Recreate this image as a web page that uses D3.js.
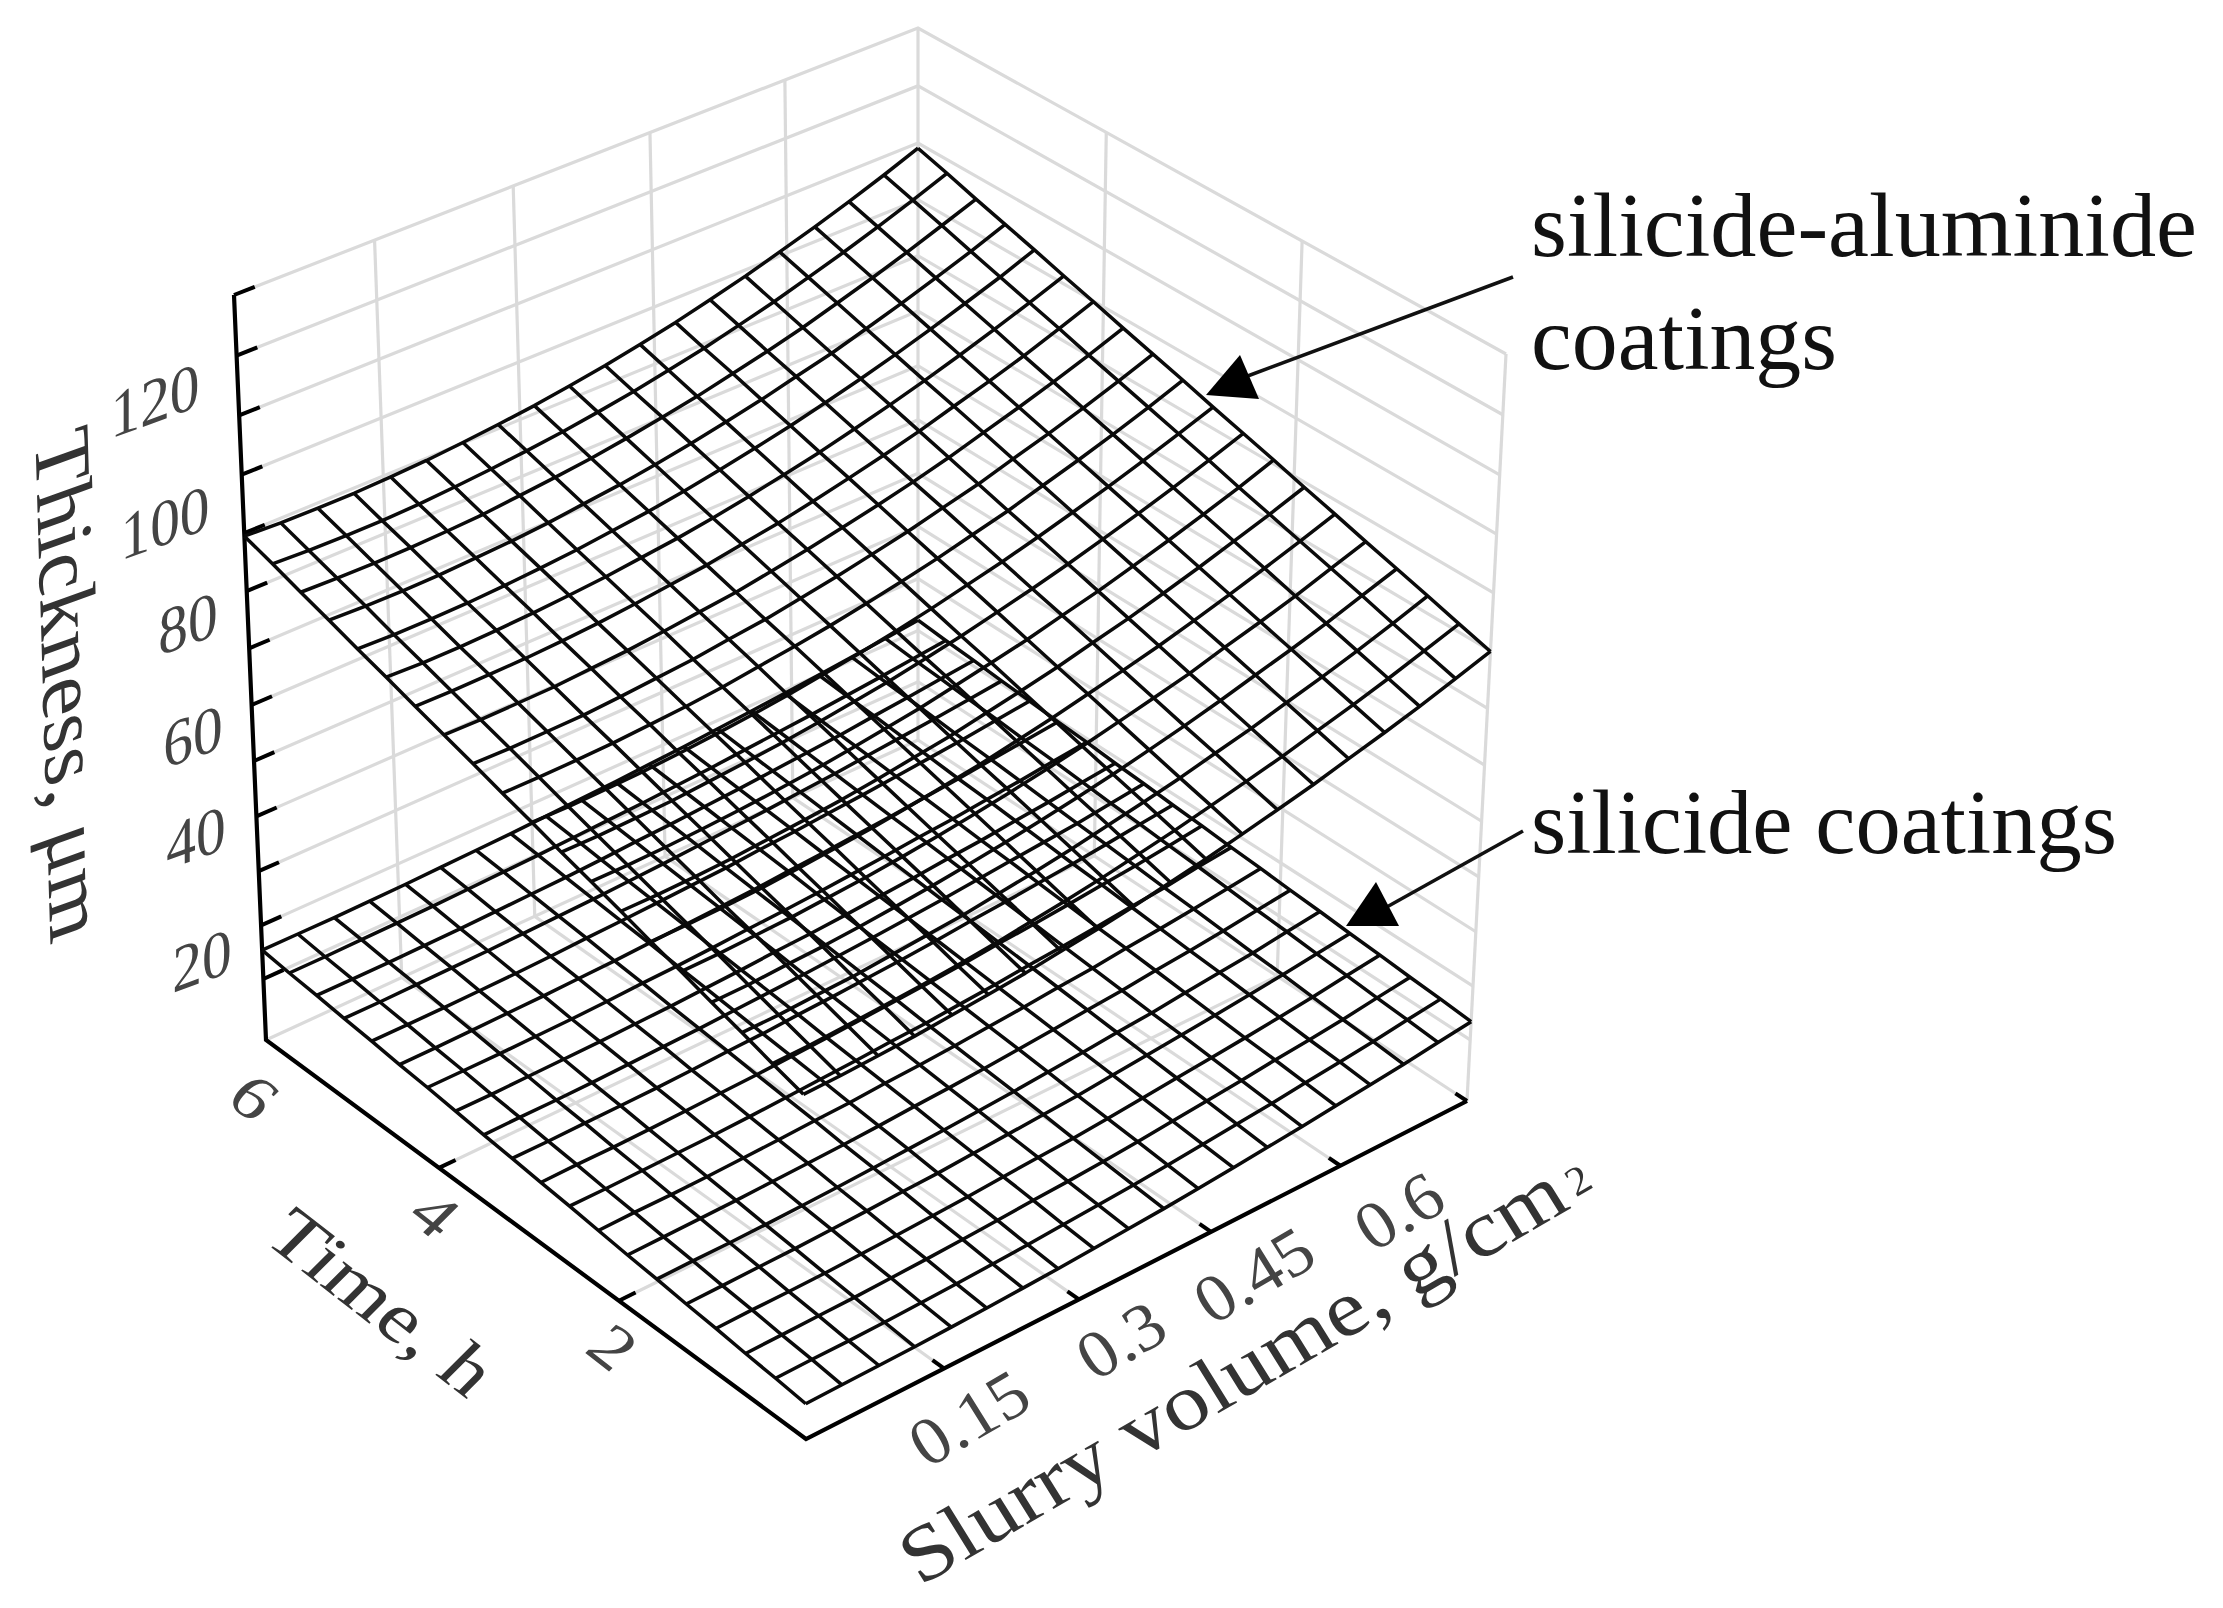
<!DOCTYPE html>
<html><head><meta charset="utf-8">
<script src="https://cdn.jsdelivr.net/npm/d3@7"></script>
<style>html,body{margin:0;background:#fff}svg{display:block;filter:blur(0.6px)}text{font-family:"Liberation Serif",serif}</style>
</head><body><div id="c"></div>
<script>
// ---- data ----
const slurryGrid=[0,0.039,0.079,0.118,0.158,0.197,0.237,0.276,0.316,0.355,0.395,0.434,0.474,0.513,0.553,0.592,0.632,0.671,0.711,0.75];
const timeGrid=[0,0.316,0.632,0.947,1.263,1.579,1.895,2.211,2.526,2.842,3.158,3.474,3.789,4.105,4.421,4.737,5.053,5.368,5.684,6];
const aluminide=[
[68.3,68.5,68.9,69.3,69.9,70.5,71.2,72.1,73.0,74.0,75.2,76.4,77.8,79.2,80.7,82.4,84.1,85.9,87.9,89.9],
[69.9,70.1,70.5,70.9,71.4,72.0,72.7,73.6,74.5,75.5,76.7,77.9,79.3,80.7,82.2,83.9,85.6,87.4,89.4,91.4],
[71.6,71.7,72.1,72.4,73.0,73.6,74.2,75.1,76.0,77.0,78.2,79.4,80.7,82.2,83.7,85.4,87.1,88.9,90.9,93.0],
[73.2,73.3,73.7,74.0,74.5,75.1,75.8,76.6,77.5,78.5,79.6,80.8,82.2,83.6,85.2,86.9,88.6,90.4,92.5,94.5],
[74.9,75.0,75.3,75.6,76.1,76.6,77.3,78.1,79.0,80.0,81.1,82.3,83.7,85.1,86.6,88.4,90.1,91.9,94.0,96.0],
[76.5,76.6,76.8,77.1,77.6,78.2,78.8,79.6,80.5,81.4,82.6,83.8,85.2,86.6,88.1,89.8,91.6,93.5,95.5,97.6],
[78.2,78.2,78.4,78.7,79.2,79.7,80.3,81.1,82.0,82.9,84.1,85.3,86.6,88.1,89.6,91.3,93.1,95.0,97.0,99.1],
[79.8,79.8,80.0,80.3,80.7,81.2,81.8,82.6,83.5,84.4,85.6,86.8,88.1,89.6,91.1,92.8,94.6,96.5,98.5,100.7],
[81.4,81.4,81.6,81.8,82.3,82.8,83.4,84.1,85.0,85.9,87.0,88.2,89.6,91.0,92.6,94.3,96.1,98.0,100.1,102.2],
[83.1,83.0,83.2,83.4,83.8,84.3,84.9,85.6,86.5,87.4,88.5,89.7,91.1,92.5,94.1,95.8,97.6,99.5,101.6,103.7],
[84.7,84.7,84.8,85.0,85.4,85.8,86.4,87.2,88.0,88.9,90.0,91.2,92.5,94.0,95.5,97.3,99.1,101.0,103.1,105.3],
[86.4,86.3,86.4,86.5,86.9,87.4,87.9,88.7,89.4,90.4,91.5,92.7,94.0,95.5,97.0,98.8,100.6,102.5,104.6,106.8],
[88.0,87.9,88.0,88.1,88.5,88.9,89.5,90.2,90.9,91.9,93.0,94.2,95.5,96.9,98.5,100.3,102.1,104.0,106.1,108.3],
[89.6,89.5,89.6,89.7,90.0,90.4,91.0,91.7,92.4,93.4,94.4,95.6,97.0,98.4,100.0,101.8,103.6,105.5,107.7,109.9],
[91.3,91.1,91.1,91.3,91.6,92.0,92.5,93.2,93.9,94.8,95.9,97.1,98.4,99.9,101.5,103.2,105.1,107.1,109.2,111.4],
[92.9,92.7,92.7,92.8,93.1,93.5,94.0,94.7,95.4,96.3,97.4,98.6,99.9,101.4,103.0,104.7,106.6,108.6,110.7,113.0],
[94.6,94.4,94.3,94.4,94.7,95.0,95.5,96.2,96.9,97.8,98.9,100.1,101.4,102.9,104.4,106.2,108.1,110.1,112.2,114.5],
[96.2,96.0,95.9,96.0,96.2,96.5,97.1,97.7,98.4,99.3,100.4,101.5,102.9,104.3,105.9,107.7,109.6,111.6,113.8,116.0],
[97.9,97.6,97.5,97.5,97.7,98.1,98.6,99.2,99.9,100.8,101.8,103.0,104.3,105.8,107.4,109.2,111.1,113.1,115.3,117.6],
[99.5,99.2,99.1,99.1,99.3,99.6,100.1,100.7,101.4,102.3,103.3,104.5,105.8,107.3,108.9,110.7,112.6,114.6,116.8,119.1]];
const silicide=[
[14.8,14.9,15.0,15.1,15.3,15.5,15.8,16.1,16.5,16.9,17.3,17.8,18.4,19.0,19.6,20.3,21.0,21.7,22.6,23.4],
[15.4,15.5,15.5,15.6,15.8,16.0,16.3,16.6,17.0,17.4,17.8,18.3,18.9,19.5,20.1,20.8,21.5,22.2,23.1,23.9],
[15.9,16.0,16.1,16.2,16.4,16.6,16.9,17.2,17.6,17.9,18.3,18.8,19.4,20.0,20.6,21.3,21.9,22.6,23.5,24.3],
[16.5,16.6,16.6,16.7,16.9,17.1,17.4,17.7,18.1,18.5,18.8,19.3,19.9,20.5,21.1,21.7,22.4,23.1,24.0,24.8],
[17.0,17.1,17.2,17.3,17.5,17.7,18.0,18.2,18.6,19.0,19.4,19.8,20.4,21.0,21.6,22.2,22.9,23.6,24.4,25.2],
[17.6,17.7,17.7,17.8,18.0,18.2,18.5,18.8,19.1,19.5,19.9,20.4,20.9,21.5,22.0,22.7,23.4,24.0,24.9,25.7],
[18.1,18.2,18.3,18.4,18.6,18.8,19.0,19.3,19.7,20.0,20.4,20.9,21.4,22.0,22.5,23.2,23.8,24.5,25.3,26.1],
[18.7,18.8,18.8,18.9,19.1,19.3,19.6,19.8,20.2,20.5,20.9,21.4,21.9,22.5,23.0,23.7,24.3,25.0,25.8,26.6],
[19.3,19.3,19.4,19.5,19.6,19.8,20.1,20.4,20.7,21.1,21.4,21.9,22.4,23.0,23.5,24.1,24.8,25.4,26.3,27.0],
[19.8,19.9,19.9,20.0,20.2,20.4,20.6,20.9,21.2,21.6,22.0,22.4,22.9,23.5,24.0,24.6,25.3,25.9,26.7,27.5],
[20.4,20.4,20.5,20.6,20.7,20.9,21.2,21.4,21.8,22.1,22.5,22.9,23.4,24.0,24.5,25.1,25.7,26.4,27.2,27.9],
[20.9,21.0,21.0,21.1,21.3,21.5,21.7,22.0,22.3,22.6,23.0,23.4,23.9,24.4,25.0,25.6,26.2,26.8,27.6,28.4],
[21.5,21.5,21.6,21.7,21.8,22.0,22.2,22.5,22.8,23.2,23.5,23.9,24.4,24.9,25.5,26.0,26.7,27.3,28.1,28.8],
[22.1,22.1,22.1,22.2,22.3,22.5,22.8,23.0,23.3,23.7,24.0,24.4,24.9,25.4,26.0,26.5,27.2,27.8,28.6,29.3],
[22.6,22.6,22.7,22.8,22.9,23.1,23.3,23.6,23.9,24.2,24.5,25.0,25.4,25.9,26.4,27.0,27.6,28.3,29.0,29.7],
[23.2,23.2,23.2,23.3,23.4,23.6,23.9,24.1,24.4,24.7,25.0,25.5,25.9,26.4,26.9,27.5,28.1,28.7,29.5,30.2],
[23.7,23.7,23.8,23.9,24.0,24.2,24.4,24.6,24.9,25.2,25.6,26.0,26.4,26.9,27.4,28.0,28.6,29.2,29.9,30.6],
[24.3,24.3,24.3,24.4,24.5,24.7,24.9,25.1,25.4,25.8,26.1,26.5,26.9,27.4,27.9,28.4,29.1,29.7,30.4,31.1],
[24.8,24.8,24.9,25.0,25.1,25.3,25.5,25.7,26.0,26.3,26.6,27.0,27.4,27.9,28.4,28.9,29.5,30.1,30.8,31.5],
[25.4,25.4,25.4,25.5,25.6,25.8,26.0,26.2,26.5,26.8,27.1,27.5,27.9,28.4,28.9,29.4,30.0,30.6,31.3,32.0]];
const slurryTicks=[0.15,0.3,0.45,0.6,0.75];
const slurryLabels=["0.15","0.3","0.45","0.6"];
const timeTicks=[0,2,4,6];
const timeLabels=["2","4","6"];
const zTicks=[20,30,40,50,60,70,80,90,100,110,120,130,140];
const zLabels=["20","40","60","80","100","120"];

// ---- projection ----
const W=2223,H=1608;
const svg=d3.select("#c").append("svg").attr("width",W).attr("height",H).attr("viewBox",`0 0 ${W} ${H}`);
const sScale=d3.scaleLinear().domain([0,0.75]).range([0,1]);
const tScale=d3.scaleLinear().domain([0,6]).range([0,1]);
const zScale=d3.scaleLinear().domain([8.5,140]).range([0,1]);
function homography(p00,p10,p11,p01){
  const dx1=p10[0]-p11[0],dx2=p01[0]-p11[0],sx=p00[0]-p10[0]+p11[0]-p01[0];
  const dy1=p10[1]-p11[1],dy2=p01[1]-p11[1],sy=p00[1]-p10[1]+p11[1]-p01[1];
  const det=dx1*dy2-dx2*dy1,g=(sx*dy2-dx2*sy)/det,h=(dx1*sy-sx*dy1)/det;
  const a=p10[0]-p00[0]+g*p10[0],b=p01[0]-p00[0]+h*p01[0],c=p00[0];
  const d=p10[1]-p00[1]+g*p10[1],e=p01[1]-p00[1]+h*p01[1],f=p00[1];
  return (u,v)=>{const w=g*u+h*v+1;return [(a*u+b*v+c)/w,(d*u+e*v+f)/w];};
}
const floorMap=homography([806,1439],[1467,1101],[918,740],[266,1040]);
const topMap=homography([800,650],[1506,354],[918,28],[234,295]);
const persp=0.93;
function P(s,t,z){
  const u=sScale(s),v=tScale(t),k0=zScale(z),k=k0*persp/(1-k0+k0*persp);
  const f=floorMap(u,v),g=topMap(u,v);
  return [f[0]+(g[0]-f[0])*k,f[1]+(g[1]-f[1])*k];
}
const line=d3.line();
const Z0=8.5,Z1=140,S1=0.75,T1=6;

// ---- walls and floor grid ----
const grid=svg.append("g").attr("fill","none").attr("stroke","#dadada").attr("stroke-width",3.2);
function seg(g,a,b){g.append("path").attr("d",line([a,b]));}
zTicks.forEach(z=>{
  grid.append("path").attr("d",line([P(0,T1,z),P(S1,T1,z),P(S1,0,z)]));
});
[0.15,0.3,0.45,0.6,0.75].forEach(s=>seg(grid,P(s,T1,Z0),P(s,T1,Z1)));
[0,2,4].forEach(t=>seg(grid,P(S1,t,Z0),P(S1,t,Z1)));
slurryTicks.forEach(s=>seg(grid,P(s,0,Z0),P(s,T1,Z0)));
timeTicks.forEach(t=>seg(grid,P(0,t,Z0),P(S1,t,Z0)));

// ---- axes ----
const ax=svg.append("g").attr("fill","none").attr("stroke","#000");
ax.append("path").attr("stroke-width",4.2).attr("d",line([P(0,T1,Z1),P(0,T1,Z0),P(0,0,Z0),P(S1,0,Z0)]));
const tk=ax.append("g").attr("stroke-width",4);
zTicks.forEach(z=>seg(tk,P(0,T1,z),P(0.022,T1,z)));
slurryTicks.forEach(s=>seg(tk,P(s,0,Z0),P(s,0.12,Z0)));
timeTicks.slice(1,3).forEach(t=>seg(tk,P(0,t,Z0),P(0.018,t,Z0)));

// ---- surfaces ----
function mesh(values){
  const g=svg.append("g").attr("fill","none").attr("stroke","#0a0a0a").attr("stroke-width",3.5).attr("stroke-linejoin","round");
  values.forEach((row,j)=>g.append("path").attr("d",line(row.map((z,i)=>P(slurryGrid[i],timeGrid[j],z)))));
  slurryGrid.forEach((s,i)=>g.append("path").attr("d",line(values.map((row,j)=>P(s,timeGrid[j],row[i])))));
}
mesh(silicide);
mesh(aluminide);

// ---- text ----
function label(txt,x,y,m,size,fill){
  return svg.append("text").attr("transform",`matrix(${m[0]},${m[1]},${m[2]},${m[3]},${x},${y})`)
    .attr("text-anchor","middle").attr("dominant-baseline","central").attr("font-size",size).attr("fill",fill).text(txt);
}
const wallM=[0.9,-0.33,0,1], timeM=[0.8,0.62,-0.62,0.62], slurryM=[0.86,-0.5,0.5,0.8], slurryTitleM=[0.86,-0.5,0.46,0.74];
const zPos=[[202,960],[196,837],[193,736],[188,623],[165,522],[155,400]];
zLabels.forEach((l,i)=>label(l,zPos[i][0],zPos[i][1],wallM,66,"#444"));
const tPos=[[613,1347],[435,1214],[254,1097]];
timeLabels.forEach((l,i)=>label(l,tPos[i][0],tPos[i][1],timeM,74,"#444"));
const sPos=[[969,1418],[1121,1340],[1254,1275],[1399,1211]];
slurryLabels.forEach((l,i)=>label(l,sPos[i][0],sPos[i][1],slurryM,72,"#444"));

label("Thickness, μm",70,684,[0.03,1,-0.92,0.33],86,"#333");
label("Time, h",382,1302,timeM,84,"#333");
label("Slurry volume, g/cm",1232,1374,slurryTitleM,92,"#333");
label("2",1578,1180,slurryM,44,"#333");

function note(txt,x,y,len){
  svg.append("text").attr("x",x).attr("y",y).attr("font-size",90).attr("fill","#111")
    .attr("textLength",len).attr("lengthAdjust","spacingAndGlyphs").text(txt);
}
note("silicide-aluminide",1531,256,666);
note("coatings",1531,369,306);
note("silicide coatings",1531,853,586);

// ---- arrows ----
const arrows=svg.append("g");
arrows.append("path").attr("d",line([[1513,277],[1245,377]])).attr("stroke","#111").attr("stroke-width",3.5).attr("fill","none");
arrows.append("path").attr("d",line([[1206,395],[1240,355],[1259,399]])+"Z").attr("fill","#000");
arrows.append("path").attr("d",line([[1523,831],[1385,908]])).attr("stroke","#111").attr("stroke-width",3.5).attr("fill","none");
arrows.append("path").attr("d",line([[1346,926],[1376,882],[1399,926]])+"Z").attr("fill","#000");
</script></body></html>
